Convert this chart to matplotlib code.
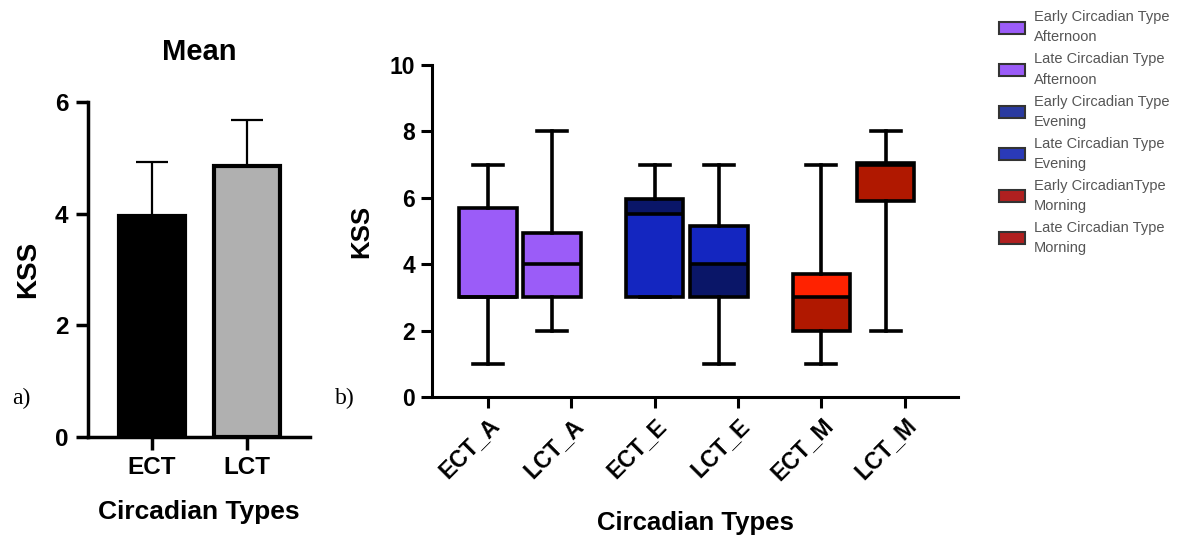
import numpy as np
import matplotlib
matplotlib.use("Agg")
import matplotlib.pyplot as plt
from matplotlib.patches import Patch

plt.rcParams['font.family'] = ['Liberation Sans', 'DejaVu Sans']

# panel a) mean +/- sd
bar_labels = ['ECT', 'LCT']
bar_means = [3.95, 4.85]
bar_sd = [0.98, 0.83]
bar_colors = ['black', '#b0b0b0']

# panel b) box plots
box_labels = ['ECT_A', 'LCT_A', 'ECT_E', 'LCT_E', 'ECT_M', 'LCT_M']
box_min = [1, 2, 3, 1, 1, 2]
box_q1 = [3, 3, 3, 3, 2, 5.9]
box_med = [3, 4, 5.5, 4, 3, 7]
box_q3 = [5.7, 4.95, 5.95, 5.15, 3.7, 7.05]
box_max = [7, 8, 7, 7, 7, 8]
upper_colors = ['#9b5cf8', '#9b5cf8', '#0a1668', '#1426c0', '#ff2200', '#b01800']
lower_colors = ['#9b5cf8', '#9b5cf8', '#1426c0', '#0a1668', '#b01800', '#b01800']
legend_colors = ['#9b5cf8', '#9b5cf8', '#2a3aa0', '#2a3ab8', '#b02020', '#b02020']
legend_labels = ['Early Circadian Type\nAfternoon', 'Late Circadian Type\nAfternoon',
                 'Early Circadian Type\nEvening', 'Late Circadian Type\nEvening',
                 'Early CircadianType\nMorning', 'Late Circadian Type\nMorning']

fig = plt.figure(figsize=(11.86, 5.4), dpi=100)

# ---- a) bar chart
ax1 = fig.add_axes([88/1186, 1-437/540, 222/1186, 335/540])
xb = np.arange(len(bar_labels))
ax1.bar(xb, bar_means, width=0.7, color=bar_colors, edgecolor='black', linewidth=3, zorder=3)
ax1.errorbar(xb, bar_means, yerr=[np.zeros(2), bar_sd], fmt='none', ecolor='black',
             elinewidth=1.6, capsize=11.5, capthick=1.6, zorder=2)
ax1.set_xlim(-0.674, 1.663)
ax1.set_ylim(0, 6)
ax1.set_yticks([0, 2, 4, 6])
ax1.set_xticks(xb)
ax1.set_xticklabels(bar_labels)
for s in ['top', 'right']:
    ax1.spines[s].set_visible(False)
for s in ['left', 'bottom']:
    ax1.spines[s].set_linewidth(2.5)
ax1.tick_params(width=2.5, length=9, labelsize=17.5, pad=5)
for t in ax1.get_xticklabels() + ax1.get_yticklabels():
    t.set_fontweight('bold')
ax1.set_title('Mean', fontsize=21, fontweight='bold', pad=30)
ax1.set_ylabel('KSS', fontsize=20, fontweight='bold', labelpad=10)
ax1.set_xlabel('Circadian Types', fontsize=19, fontweight='bold', labelpad=15)
fig.text(12/1186, 1-398/540, 'a)', fontsize=17, family='Liberation Serif', va='center')

# ---- b) box plots
ax2 = fig.add_axes([432/1186, 1-397/540, 526/1186, 332/540])
pos = np.array([2*(i//2) + 0.77*(i % 2) for i in range(len(box_labels))])
w = 0.69
q1 = np.array(box_q1); q3 = np.array(box_q3); med = np.array(box_med)
ax2.bar(pos, q3-med, bottom=med, width=w, color=upper_colors, linewidth=0, zorder=2)
ax2.bar(pos, med-q1, bottom=q1, width=w, color=lower_colors, linewidth=0, zorder=2)
stats = [dict(whislo=box_min[i], q1=box_q1[i], med=box_med[i], q3=box_q3[i],
              whishi=box_max[i], fliers=[]) for i in range(len(box_labels))]
ax2.bxp(stats, positions=pos, widths=w, patch_artist=True, showfliers=False,
        boxprops=dict(facecolor='none', edgecolor='black', linewidth=2.6),
        medianprops=dict(color='black', linewidth=2.6),
        whiskerprops=dict(color='black', linewidth=2.6),
        capprops=dict(color='black', linewidth=2.6), capwidths=0.36,
        zorder=3)
ax2.set_xticks(np.arange(len(box_labels)))
ax2.set_xticklabels(box_labels, rotation=45, ha='right', rotation_mode='anchor')
ax2.set_xlim(-0.672, 5.64)
ax2.set_ylim(0, 10)
ax2.set_yticks([0, 2, 4, 6, 8, 10])
for s in ['top', 'right']:
    ax2.spines[s].set_visible(False)
for s in ['left', 'bottom']:
    ax2.spines[s].set_linewidth(2.2)
ax2.tick_params(width=2.2, length=8, labelsize=16.5, pad=4)
for t in ax2.get_xticklabels() + ax2.get_yticklabels():
    t.set_fontweight('bold')
ax2.set_ylabel('KSS', fontsize=18.5, fontweight='bold', labelpad=12)
ax2.set_xlabel('Circadian Types', fontsize=18.5, fontweight='bold', labelpad=19)
fig.text(335/1186, 1-398/540, 'b)', fontsize=17, family='Liberation Serif', va='center')

handles = [Patch(facecolor=c, edgecolor='#333333', linewidth=1.5) for c in legend_colors]
leg = fig.legend(handles, legend_labels, loc='upper left', bbox_to_anchor=(986/1186, 1.005),
                 frameon=False, fontsize=10.5, labelcolor='#555555', handlelength=1.8,
                 handleheight=0.9, labelspacing=0.55, handletextpad=0.6)
for t in leg.get_texts():
    t.set_linespacing(1.55)

fig.savefig('out.png', dpi=100)
